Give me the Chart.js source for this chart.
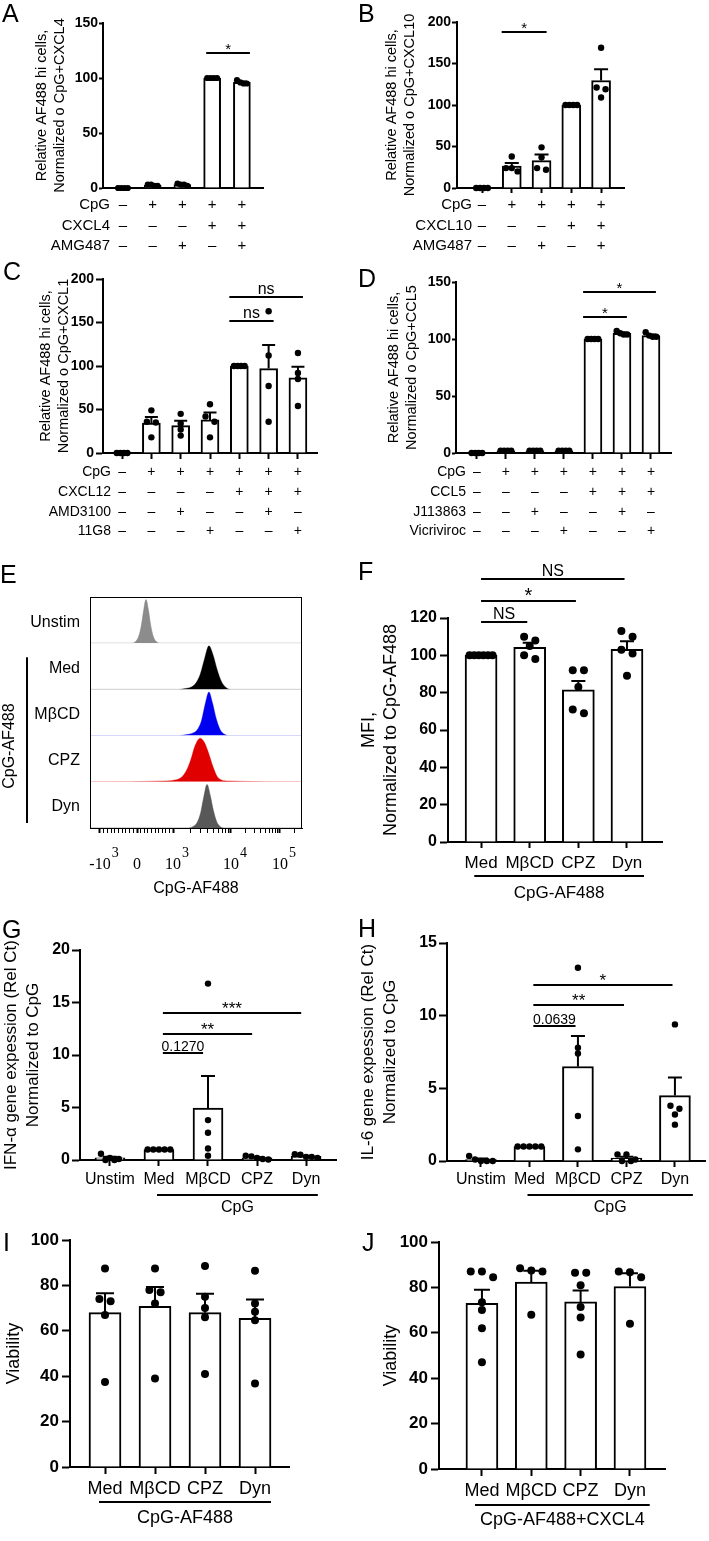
<!DOCTYPE html>
<html>
<head>
<meta charset="utf-8">
<title>Figure</title>
<script src="https://cdn.jsdelivr.net/npm/chart.js@4.4.1/dist/chart.umd.min.js"></script>
<style>
  html, body { margin: 0; padding: 0; background: #fff; }
  #fig { position: relative; width: 709px; height: 1541px; overflow: hidden; background: #fff; }
  #fig canvas { position: absolute; }
</style>
</head>
<body>
<div id="fig"></div>
<script>
const SANS = "'Liberation Sans', Arial, Helvetica, sans-serif";
const SERIF = "'Liberation Serif', 'Times New Roman', serif";

// ---- A: CpG + CXCL4 / AMG487
const meanA = [0, 2.5, 3, 100, 96];
const semA = [0, 0.4, 0.5, 0, 0.8];
const dotsA = [[0, 0, 0, 0], [2, 3, 2, 3], [2, 4, 3, 3], [100, 100, 100, 100], [95, 98, 96, 95]];
const cpgA = [0, 1, 1, 1, 1];
const cxcl4A = [0, 0, 0, 1, 1];
const amg487A = [0, 0, 1, 0, 1];
const sigA = [{ a: 3, b: 4, y: 123, t: '*' }];

// ---- B: CpG + CXCL10 / AMG487
const meanB = [0, 26.5, 33, 100, 129.5];
const semB = [0, 3.5, 7.5, 0, 13.5];
const dotsB = [[0, 0, 0, 0], [38, 24, 24, 20], [49, 37, 24, 22], [100, 100, 100, 100], [169, 121, 119, 109]];
const cpgB = [0, 1, 1, 1, 1];
const cxcl10B = [0, 0, 0, 1, 1];
const amg487B = [0, 0, 1, 0, 1];
const sigB = [{ a: 1, b: 2, y: 188, t: '*' }];

// ---- C: CpG + CXCL12 / AMD3100 / 11G8
const meanC = [0, 34.5, 31.5, 38, 100, 97, 86.5];
const semC = [0, 7, 5.5, 8.5, 0, 27, 12.5];
const dotsC = [[0, 0, 0, 0], [49, 36, 35, 18], [45, 34, 27, 20], [56, 42, 36, 18],
  [100, 100, 100, 100], [163, 112, 77, 36], [115, 92, 85, 54]];
const cpgC = [0, 1, 1, 1, 1, 1, 1];
const cxcl12C = [0, 0, 0, 0, 1, 1, 1];
const amd3100C = [0, 0, 1, 0, 0, 1, 0];
const g11C = [0, 0, 0, 1, 0, 0, 1];
const sigC = [{ a: 4, b: 5, y: 152, t: 'ns' }, { a: 4, b: 6, y: 179, t: 'ns' }];

// ---- D: CpG + CCL5 / J113863 / Vicriviroc
const meanD = [0, 2, 2, 2, 100, 105, 103];
const semD = [0, 0.2, 0.2, 0.2, 0, 0.8, 1];
const dotsD = [[0, 0, 0, 0], [2, 2, 2, 2], [2, 2, 2, 2], [2, 2, 2, 2],
  [100, 100, 100, 100], [107, 105, 104, 104], [106, 103, 102, 102]];
const cpgD = [0, 1, 1, 1, 1, 1, 1];
const ccl5D = [0, 0, 0, 0, 1, 1, 1];
const j113863D = [0, 0, 1, 0, 0, 1, 0];
const vicrivirocD = [0, 0, 0, 1, 0, 0, 1];
const sigD = [{ a: 4, b: 5, y: 119, t: '*' }, { a: 4, b: 6, y: 141, t: '*' }];

// ---- E: flow histograms (channel 0-1000, height normalised to mode)
const laneNames = ['Unstim', 'Med', 'MβCD', 'CPZ', 'Dyn'];
const unstimX = [0, 195, 215, 230, 242, 253, 264, 275, 286, 298, 312, 330, 1000];
const unstimY = [0, 0, 0.04, 0.16, 0.4, 0.75, 1.0, 0.78, 0.42, 0.16, 0.04, 0, 0];
const medX = [0, 420, 450, 480, 500, 520, 540, 561, 580, 600, 620, 640, 665, 1000];
const medY = [0, 0, 0.02, 0.06, 0.15, 0.35, 0.7, 1.0, 0.8, 0.45, 0.18, 0.05, 0, 0];
const mbcdX = [0, 420, 450, 480, 505, 525, 543, 561, 578, 596, 615, 635, 655, 1000];
const mbcdY = [0, 0, 0.02, 0.05, 0.13, 0.33, 0.72, 1.0, 0.75, 0.38, 0.13, 0.03, 0, 0];
const cpzX = [0, 363, 400, 430, 455, 475, 495, 519, 540, 560, 580, 600, 620, 642, 1000];
const cpzY = [0, 0.02, 0.04, 0.1, 0.26, 0.5, 0.82, 1.0, 0.9, 0.65, 0.35, 0.12, 0.04, 0.02, 0];
const dynX = [0, 460, 485, 505, 522, 537, 552, 567, 582, 598, 615, 635, 1000];
const dynY = [0, 0, 0.03, 0.12, 0.35, 0.72, 1.0, 0.75, 0.4, 0.14, 0.03, 0, 0];
const eTickPos = [47, 222, 392, 665, 896];
const eTickBase = ['-10', '0', '10', '10', '10'];
const eTickExp = ['3', '', '3', '4', '5'];

// ---- F: MFI
const catsF = ['Med', 'MβCD', 'CPZ', 'Dyn'];
const meanF = [100, 104.3, 81.5, 103.2];
const semF = [0, 2.5, 4.8, 4.4];
const dotsF = [[100, 100, 100, 100, 100, 100], [110, 108, 105, 100, 98], [92, 92, 83, 71, 69], [113, 110, 103, 101, 89]];
const sigF = [{ a: 0, b: 1, y: 118, t: 'NS' }, { a: 0, b: 2, y: 129, t: '*' }, { a: 0, b: 3, y: 141, t: 'NS' }];

// ---- G: IFN-a
const catsG = ['Unstim', 'Med', 'MβCD', 'CPZ', 'Dyn'];
const meanG = [0.2, 1, 4.95, 0.2, 0.35];
const semG = [0.1, 0, 3.05, 0.06, 0.06];
const dotsG = [[0, 0.6, 0.2, 0.1, 0], [1, 1, 1, 1, 1], [16.8, 3.8, 2.6, 1.1, 0.4], [0.1, 0.35, 0.2, 0.4, 0.05], [0.3, 0.55, 0.5, 0.2, 0.3]];
const sigG = [{ a: 1, b: 2, y: 10.2, t: '0.1270' }, { a: 1, b: 3, y: 12, t: '**' }, { a: 1, b: 4, y: 14, t: '***' }];

// ---- H: IL-6
const catsH = ['Unstim', 'Med', 'MβCD', 'CPZ', 'Dyn'];
const meanH = [0.1, 1, 6.5, 0.2, 4.5];
const semH = [0.08, 0, 2.1, 0.1, 1.25];
const dotsH = [[0, 0.35, 0.1, 0, 0], [1, 1, 1, 1, 1], [13.3, 7.8, 7.4, 3.1, 0.8], [0, 0.45, 0.1, 0.45, 0], [9.4, 3.8, 3.6, 3.2, 2.5]];
const sigH = [{ a: 1, b: 2, y: 9.3, t: '0.0639' }, { a: 1, b: 3, y: 10.7, t: '**' }, { a: 1, b: 4, y: 12.1, t: '*' }];

// ---- I, J: viability
const catsIJ = ['Med', 'MβCD', 'CPZ', 'Dyn'];
const meanI = [68, 70.8, 68, 65.5];
const semI = [8.5, 8.5, 8.3, 8.3];
const dotsI = [[87.5, 74, 73, 67, 37.5], [87.5, 78, 77, 72, 39], [88.5, 75, 70, 66, 41], [86.5, 72, 68.4, 64.7, 36.8]];
const meanJ = [73, 82.3, 73.6, 80.4];
const semJ = [6, 5, 5, 5.8];
const dotsJ = [[87, 87, 84.5, 73.5, 70, 62, 47], [88.4, 87.4, 87, 68], [86.5, 86.5, 81, 71.4, 66.7, 50.4], [87, 86.7, 84.5, 64]];

Chart.defaults.font.family = SANS;
Chart.defaults.color = '#000';
Chart.defaults.animation = false;

const LETTER = { family: SANS, size: 25, weight: 'normal' };

function addCanvas(box) {
  const cv = document.createElement('canvas');
  cv.width = box[2];
  cv.height = box[3];
  cv.style.left = box[0] + 'px';
  cv.style.top = box[1] + 'px';
  cv.style.width = box[2] + 'px';
  cv.style.height = box[3] + 'px';
  document.getElementById('fig').appendChild(cv);
  return cv;
}

function cssFont(f) {
  return `${f.weight || 'normal'} ${f.size}px ${f.family || SANS}`;
}

// dots with (almost) the same value sit side by side, centred on the bar
function spreadDots(groups, pxX, pxY, r, barW) {
  const out = [];
  groups.forEach((vals, i) => {
    const rows = [];
    vals.slice().sort((a, b) => b - a).forEach((v) => {
      const row = rows.find((rw) => Math.abs(rw[0] - v) * pxY < 1.8 * r);
      if (row) row.push(v);
      else rows.push([v]);
    });
    rows.forEach((rw) => {
      const m = rw.length;
      const span = m > 1 ? Math.min((m - 1) * 2.8 * r, barW - 2 * r - 1) : 0;
      rw.forEach((v, k) => {
        const off = m > 1 ? -span / 2 + (k * span) / (m - 1) : 0;
        out.push({ x: i + off / pxX, y: v });
      });
    });
  });
  return out;
}

function sigBaseline(t) {
  if (/^\*+$/.test(t)) return 1;
  if (/^[0-9.]+$/.test(t)) return -2;
  return -3;
}

function barDeco(p) {
  return {
    id: 'barDeco',
    afterDatasetsDraw(chart) {
      const ctx = chart.ctx;
      const xs = chart.scales.x;
      const ys = chart.scales.y;
      const ox = p.box[0];
      const oy = p.box[1];
      ctx.save();
      ctx.strokeStyle = '#000';
      ctx.fillStyle = '#000';
      ctx.lineWidth = 2;

      // error bars (mean + SEM)
      p.means.forEach((m, i) => {
        const s = p.sems[i];
        if (!s) return;
        const x = xs.getPixelForValue(i);
        const yb = ys.getPixelForValue(m);
        const yt = ys.getPixelForValue(m + s);
        ctx.beginPath();
        ctx.moveTo(x, yb);
        ctx.lineTo(x, yt);
        ctx.moveTo(x - p.capW / 2, yt);
        ctx.lineTo(x + p.capW / 2, yt);
        ctx.stroke();
      });

      // significance lines
      ctx.textAlign = 'center';
      ctx.textBaseline = 'alphabetic';
      p.sig.forEach((s) => {
        const xa = xs.getPixelForValue(s.a + p.sigPad[0]);
        const xb = xs.getPixelForValue(s.b + p.sigPad[1]);
        const y = Math.round(ys.getPixelForValue(s.y));
        ctx.beginPath();
        ctx.moveTo(xa, y);
        ctx.lineTo(xb, y);
        ctx.stroke();
        ctx.font = cssFont(/^\*+$/.test(s.t) ? p.starFont : p.sigFont);
        ctx.fillText(s.t, (xa + xb) / 2, y + sigBaseline(s.t));
      });

      // +/- condition table
      if (p.rows) {
        ctx.font = cssFont(p.tableFont);
        ctx.textBaseline = 'middle';
        p.rows.forEach(([name, flags], r) => {
          const y = p.rowY[r] - oy;
          ctx.textAlign = 'right';
          ctx.fillText(name, p.nameRight - ox, y);
          ctx.textAlign = 'center';
          flags.forEach((f, i) => ctx.fillText(f ? '+' : '–', xs.getPixelForValue(i), y));
        });
      }

      // group underline
      if (p.group) {
        const g = p.group;
        const xa = xs.getPixelForValue(g.a + g.padL);
        const xb = xs.getPixelForValue(g.b + g.padR);
        ctx.beginPath();
        ctx.moveTo(xa, g.lineY - oy);
        ctx.lineTo(xb, g.lineY - oy);
        ctx.stroke();
        ctx.font = cssFont(g.font);
        ctx.textAlign = 'center';
        ctx.textBaseline = 'middle';
        ctx.fillText(g.text, (xa + xb) / 2, g.textY - oy);
      }

      ctx.font = cssFont(LETTER);
      ctx.textAlign = 'left';
      ctx.textBaseline = 'alphabetic';
      ctx.fillText(p.letter.t, p.letter.x - ox, p.letter.y - oy);
      ctx.restore();
    },
  };
}

function barPanel(p) {
  const [bl, bt, bw, bh] = p.box;
  const [x0, x1, yTop, y0] = p.plot;
  const cv = addCanvas(p.box);
  const pxX = (x1 - x0) / (p.xMax - p.xMin);
  const pxY = (y0 - yTop) / p.yMax;
  const dots = spreadDots(p.dots, pxX, pxY, p.dotR, p.barW);

  return new Chart(cv, {
    type: 'bar',
    data: {
      datasets: [
        {
          type: 'bar',
          data: p.means.map((m, i) => ({ x: i, y: m })),
          backgroundColor: '#fff',
          borderColor: '#000',
          borderWidth: 2,
          barThickness: p.barW,
          order: 2,
        },
        {
          type: 'scatter',
          data: dots,
          pointRadius: p.dotR,
          pointBackgroundColor: '#000',
          pointBorderWidth: 0,
          clip: false,
          order: 1,
        },
      ],
    },
    options: {
      responsive: false,
      animation: false,
      devicePixelRatio: 1,
      events: [],
      layout: { padding: { left: 0, top: yTop - bt, right: bl + bw - x1, bottom: 0 } },
      plugins: { legend: { display: false }, tooltip: { enabled: false } },
      scales: {
        x: {
          type: 'linear',
          min: p.xMin,
          max: p.xMax,
          offset: false,
          afterBuildTicks: (s) => { s.ticks = p.means.map((m, i) => ({ value: i })); },
          afterFit: (s) => { s.height = bt + bh - y0; },
          grid: { offset: false, drawOnChartArea: false, drawTicks: p.xTickLen > 0, tickLength: p.xTickLen || 0, tickWidth: 2, tickColor: '#000' },
          border: { color: '#000', width: 2 },
          ticks: {
            display: !!p.cats,
            autoSkip: false,
            maxRotation: 0,
            padding: p.catPad || 0,
            font: p.catFont,
            color: '#000',
            callback: (v) => (p.cats ? p.cats[v] : ''),
          },
        },
        y: {
          min: 0,
          max: p.yMax,
          afterFit: (s) => { s.width = x0 - bl; },
          grid: { drawOnChartArea: false, tickLength: p.yTickLen, tickWidth: 2, tickColor: '#000' },
          border: { color: '#000', width: 2 },
          ticks: { stepSize: p.yStep, font: p.tickFont, color: '#000', padding: p.yTickPad },
          title: { display: true, text: p.yTitle, font: p.titleFont, color: '#000', padding: { top: p.titlePad, bottom: 0 } },
        },
      },
    },
    plugins: [barDeco(p)],
  });
}

// ---------------- panels A-D ----------------
const tickSmall = { family: SANS, size: 14, weight: 'bold' };
const titleSmall = { family: SANS, size: 14.5, lineHeight: 1.24 };

barPanel({
  letter: { t: 'A', x: 2, y: 22 },
  box: [0, 0, 354, 258], plot: [103, 263, 23, 188], xMin: -0.67, xMax: 4.71,
  yMax: 150, yStep: 50, means: meanA, sems: semA, dots: dotsA, sig: sigA,
  barW: 17, dotR: 3.1, capW: 10, xTickLen: 0, yTickLen: 4, yTickPad: 1,
  tickFont: tickSmall, yTitle: ['Relative AF488 hi cells,', 'Normalized o CpG+CXCL4'], titleFont: titleSmall, titlePad: 33,
  sigPad: [-0.2, 0.27], sigFont: { size: 15 }, starFont: { size: 15 },
  rows: [['CpG', cpgA], ['CXCL4', cxcl4A], ['AMG487', amg487A]], rowY: [205, 226, 246], nameRight: 110,
  tableFont: { size: 15 },
});

barPanel({
  letter: { t: 'B', x: 358, y: 22 },
  box: [354, 0, 355, 258], plot: [457, 624, 22, 188], xMin: -0.84, xMax: 4.77,
  yMax: 200, yStep: 50, means: meanB, sems: semB, dots: dotsB, sig: sigB,
  barW: 19, dotR: 3.2, capW: 14, xTickLen: 5, yTickLen: 5, yTickPad: 1,
  tickFont: tickSmall, yTitle: ['Relative AF488 hi cells,', 'Normalized o CpG+CXCL10'], titleFont: titleSmall, titlePad: 29,
  sigPad: [-0.34, 0.17], sigFont: { size: 15 }, starFont: { size: 15 },
  rows: [['CpG', cpgB], ['CXCL10', cxcl10B], ['AMG487', amg487B]], rowY: [205, 226, 246], nameRight: 472,
  tableFont: { size: 15 },
});

barPanel({
  letter: { t: 'C', x: 3, y: 280 },
  box: [0, 258, 354, 300], plot: [103, 317, 279, 453], xMin: -0.65, xMax: 6.65,
  yMax: 200, yStep: 50, means: meanC, sems: semC, dots: dotsC, sig: sigC,
  barW: 18, dotR: 3.2, capW: 13, xTickLen: 6, yTickLen: 7, yTickPad: 2,
  tickFont: tickSmall, yTitle: ['Relative AF488 hi cells,', 'Normalized o CpG+CXCL1'], titleFont: titleSmall, titlePad: 37,
  sigPad: [-0.34, 0.17], sigFont: { size: 16 }, starFont: { size: 15 },
  rows: [['CpG', cpgC], ['CXCL12', cxcl12C], ['AMD3100', amd3100C], ['11G8', g11C]], rowY: [472, 492, 512, 531], nameRight: 111,
  tableFont: { size: 14 },
});

barPanel({
  letter: { t: 'D', x: 358, y: 287 },
  box: [354, 258, 355, 300], plot: [456, 671, 282, 453], xMin: -0.72, xMax: 6.69,
  yMax: 150, yStep: 50, means: meanD, sems: semD, dots: dotsD, sig: sigD,
  barW: 18, dotR: 3.2, capW: 10, xTickLen: 6, yTickLen: 4, yTickPad: 1,
  tickFont: tickSmall, yTitle: ['Relative AF488 hi cells,', 'Normalized o CpG+CCL5'], titleFont: titleSmall, titlePad: 31,
  sigPad: [-0.34, 0.17], sigFont: { size: 15 }, starFont: { size: 15 },
  rows: [['CpG', cpgD], ['CCL5', ccl5D], ['J113863', j113863D], ['Vicriviroc', vicrivirocD]], rowY: [472, 492, 512, 531], nameRight: 466,
  tableFont: { size: 14 },
});

// ---------------- panel E (flow histograms) ----------------
(function flowPanel() {
  const box = [0, 558, 354, 344];
  const [bl, bt, bw, bh] = box;
  const plotL = 90, plotR = 302, plotT = 597, plotB = 828;
  const cv = addCanvas(box);
  const laneX = [unstimX, medX, mbcdX, cpzX, dynX];
  const laneY = [unstimY, medY, mbcdY, cpzY, dynY];
  const fills = ['#8c8c8c', '#000000', '#0000f0', '#e00000', '#585858'];
  const edges = ['rgba(130,130,130,0.5)', 'rgba(0,0,0,0.35)', 'rgba(0,0,240,0.35)', 'rgba(224,0,0,0.4)', 'rgba(80,80,80,0.5)'];

  // minor ticks: linear below 10^3, log decades above
  const minor = [];
  for (let k = 1; k < 10; k++) {
    minor.push(eTickPos[0] + ((eTickPos[1] - eTickPos[0]) * k) / 10);
    minor.push(eTickPos[1] + ((eTickPos[2] - eTickPos[1]) * k) / 10);
  }
  for (let k = 2; k < 10; k++) {
    minor.push(eTickPos[2] + (eTickPos[3] - eTickPos[2]) * Math.log10(k));
    minor.push(eTickPos[3] + (eTickPos[4] - eTickPos[3]) * Math.log10(k));
  }
  minor.push(eTickPos[4] + (eTickPos[4] - eTickPos[3]) * Math.log10(2));
  const allTicks = eTickPos.concat(minor).sort((a, b) => a - b);

  const scales = {
    x: {
      type: 'linear',
      min: 0,
      max: 1000,
      afterBuildTicks: (s) => { s.ticks = allTicks.map((v) => ({ value: v })); },
      afterFit: (s) => { s.height = bt + bh - plotB; },
      grid: {
        drawOnChartArea: false,
        tickLength: 5,
        tickColor: '#000',
        tickWidth: (c) => (eTickPos.includes(c.tick && c.tick.value) ? 2 : 1),
      },
      border: { color: '#000', width: 1 },
      ticks: { display: false },
      title: { display: true, text: 'CpG-AF488', font: { family: SANS, size: 16 }, color: '#000', padding: { top: 0, bottom: 4 } },
    },
  };
  // stacked lane axes; the last one added is placed on top, so add them bottom-up
  laneNames.slice().reverse().forEach((n, r) => {
    const k = laneNames.length - 1 - r;
    scales['y' + k] = {
      type: 'linear',
      position: 'left',
      stack: 'lanes',
      stackWeight: 1,
      min: 0,
      max: 1.06,
      ticks: { display: false },
      grid: { display: false },
      border: { display: false },
      afterFit: (s) => { s.width = 0; },
    };
  });

  const datasets = laneNames.map((n, k) => ({
    type: 'line',
    label: n,
    yAxisID: 'y' + k,
    data: laneX[k].map((x, j) => ({ x, y: laneY[k][j] })),
    borderColor: edges[k],
    backgroundColor: fills[k],
    borderWidth: 1,
    fill: 'origin',
    pointRadius: 0,
    cubicInterpolationMode: 'monotone',
  }));

  new Chart(cv, {
    type: 'line',
    data: { datasets },
    options: {
      responsive: false,
      animation: false,
      devicePixelRatio: 1,
      events: [],
      layout: { padding: { left: plotL - bl, top: plotT - bt, right: bl + bw - plotR, bottom: 0 } },
      plugins: { legend: { display: false }, tooltip: { enabled: false } },
      scales,
    },
    plugins: [{
      id: 'flowDeco',
      afterDraw(chart) {
        const ctx = chart.ctx;
        const a = chart.chartArea;
        const xs = chart.scales.x;
        ctx.save();
        ctx.strokeStyle = '#000';
        ctx.fillStyle = '#000';
        ctx.lineWidth = 1;
        ctx.strokeRect(a.left + 0.5, a.top + 0.5, a.right - a.left - 1, a.bottom - a.top);

        ctx.font = cssFont({ size: 16 });
        ctx.textAlign = 'right';
        ctx.textBaseline = 'middle';
        laneNames.forEach((n, k) => {
          const s = chart.scales['y' + k];
          ctx.fillText(n, 80 - bl, (s.top + s.bottom) / 2 + 2);
        });

        // bracket for the CpG-AF488 lanes
        const lanesTop = Math.min(chart.scales.y1.top, chart.scales.y4.top);
        const lanesBot = Math.max(chart.scales.y1.bottom, chart.scales.y4.bottom);
        const top = lanesTop + 14;
        const bot = lanesBot - 5;
        ctx.lineWidth = 2;
        ctx.beginPath();
        ctx.moveTo(27 - bl, top);
        ctx.lineTo(27 - bl, bot);
        ctx.stroke();
        ctx.save();
        ctx.translate(10 - bl, (top + bot) / 2 + 6);
        ctx.rotate(-Math.PI / 2);
        ctx.textAlign = 'center';
        ctx.fillText('CpG-AF488', 0, 0);
        ctx.restore();

        // axis labels with exponents
        eTickPos.forEach((v, j) => {
          const x = xs.getPixelForValue(v);
          ctx.font = cssFont({ family: SERIF, size: 16 });
          ctx.textAlign = 'center';
          ctx.fillText(eTickBase[j], x, 865 - bt);
          const w = ctx.measureText(eTickBase[j]).width;
          if (eTickExp[j]) {
            ctx.font = cssFont({ family: SERIF, size: 14 });
            ctx.textAlign = 'left';
            ctx.fillText(eTickExp[j], x + w / 2 + 1, 853 - bt);
          }
        });

        ctx.font = cssFont(LETTER);
        ctx.textAlign = 'left';
        ctx.textBaseline = 'alphabetic';
        ctx.fillText('E', 0 - bl, 583 - bt);
        ctx.restore();
      },
    }],
  });
})();

// ---------------- panels F-J ----------------
barPanel({
  letter: { t: 'F', x: 358, y: 580 },
  box: [354, 558, 355, 344], plot: [448, 662, 618, 842], xMin: -0.68, xMax: 3.72,
  yMax: 120, yStep: 20, means: meanF, sems: semF, dots: dotsF, sig: sigF,
  barW: 32, dotR: 4, capW: 14, xTickLen: 6, yTickLen: 8, yTickPad: 3,
  tickFont: { family: SANS, size: 16, weight: 'bold' },
  yTitle: ['MFI,', 'Normalized to CpG-AF488'], titleFont: { family: SANS, size: 18, lineHeight: 1.22 }, titlePad: 4,
  sigPad: [0, -0.05], sigFont: { size: 16 }, starFont: { size: 20 },
  cats: catsF, catFont: { family: SANS, size: 17 }, catPad: 5,
  group: { a: 0, b: 3, padL: -0.14, padR: 0.35, lineY: 876, text: 'CpG-AF488', textY: 893, font: { size: 17 } },
});

barPanel({
  letter: { t: 'G', x: 2, y: 938 },
  box: [0, 902, 354, 320], plot: [80, 336, 950, 1160], xMin: -0.61, xMax: 4.61,
  yMax: 20, yStep: 5, means: meanG, sems: semG, dots: dotsG, sig: sigG,
  barW: 30, dotR: 3.2, capW: 14, xTickLen: 6, yTickLen: 8, yTickPad: 2,
  tickFont: { family: SANS, size: 16, weight: 'bold' },
  yTitle: ['IFN-α gene expession (Rel Ct)', 'Normalized to CpG'], titleFont: { family: SANS, size: 17, lineHeight: 1.25 }, titlePad: 1,
  sigPad: [0.08, -0.1], sigFont: { size: 14 }, starFont: { size: 17 },
  cats: catsG, catFont: { family: SANS, size: 16 }, catPad: 4,
  group: { a: 1, b: 4, padL: -0.04, padR: 0.24, lineY: 1195, text: 'CpG', textY: 1208, font: { size: 16 } },
});

barPanel({
  letter: { t: 'H', x: 358, y: 937 },
  box: [354, 902, 355, 320], plot: [447, 705, 943, 1161], xMin: -0.7, xMax: 4.62,
  yMax: 15, yStep: 5, means: meanH, sems: semH, dots: dotsH, sig: sigH,
  barW: 31, dotR: 3.2, capW: 14, xTickLen: 6, yTickLen: 8, yTickPad: 2,
  tickFont: { family: SANS, size: 16, weight: 'bold' },
  yTitle: ['IL-6 gene expession (Rel Ct)', 'Normalized to CpG'], titleFont: { family: SANS, size: 17, lineHeight: 1.25 }, titlePad: 4,
  sigPad: [0.08, -0.05], sigFont: { size: 14 }, starFont: { size: 17 },
  cats: catsH, catFont: { family: SANS, size: 16 }, catPad: 3,
  group: { a: 1, b: 4, padL: -0.04, padR: 0.37, lineY: 1195, text: 'CpG', textY: 1208, font: { size: 16 } },
});

barPanel({
  letter: { t: 'I', x: 3, y: 1251 },
  box: [0, 1222, 354, 319], plot: [70, 289, 1240, 1467], xMin: -0.7, xMax: 3.68,
  yMax: 100, yStep: 20, means: meanI, sems: semI, dots: dotsI, sig: [],
  barW: 32, dotR: 4, capW: 18, xTickLen: 7, yTickLen: 8, yTickPad: 3,
  tickFont: { family: SANS, size: 17, weight: 'bold' },
  yTitle: 'Viability', titleFont: { family: SANS, size: 18, lineHeight: 1.2 }, titlePad: 3,
  sigPad: [0, 0], sigFont: { size: 14 }, starFont: { size: 17 },
  cats: catsIJ, catFont: { family: SANS, size: 18 }, catPad: 4,
  group: { a: 0, b: 3, padL: -0.12, padR: 0.32, lineY: 1502, text: 'CpG-AF488', textY: 1518, font: { size: 18 } },
});

barPanel({
  letter: { t: 'J', x: 362, y: 1251 },
  box: [354, 1222, 355, 319], plot: [439, 665, 1242, 1469], xMin: -0.87, xMax: 3.71,
  yMax: 100, yStep: 20, means: meanJ, sems: semJ, dots: dotsJ, sig: [],
  barW: 32, dotR: 4, capW: 16, xTickLen: 7, yTickLen: 8, yTickPad: 3,
  tickFont: { family: SANS, size: 17, weight: 'bold' },
  yTitle: 'Viability', titleFont: { family: SANS, size: 18, lineHeight: 1.2 }, titlePad: 26,
  sigPad: [0, 0], sigFont: { size: 14 }, starFont: { size: 17 },
  cats: catsIJ, catFont: { family: SANS, size: 18 }, catPad: 4,
  group: { a: 0, b: 3, padL: -0.14, padR: 0.4, lineY: 1505, text: 'CpG-AF488+CXCL4', textY: 1520, font: { size: 18 } },
});
</script>
</body>
</html>
